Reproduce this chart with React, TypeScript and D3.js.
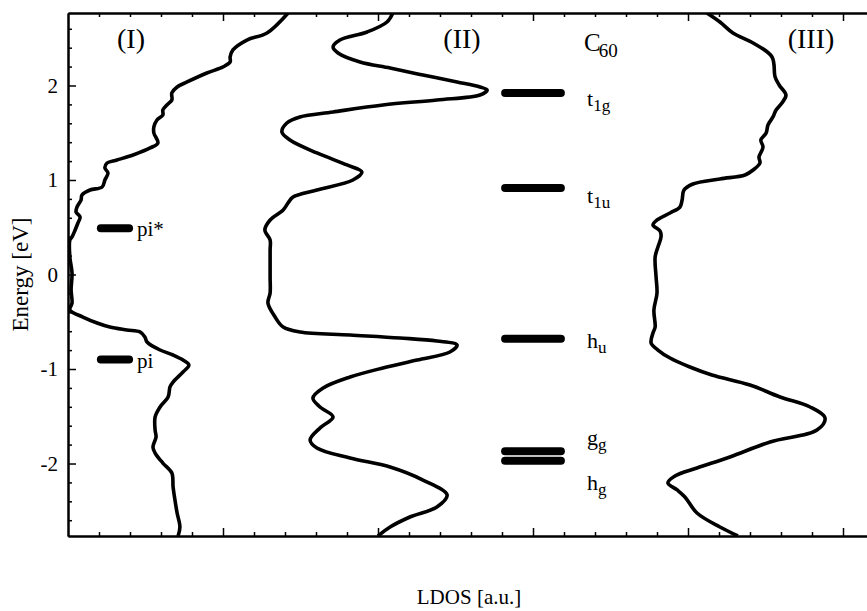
import React, { Component } from "react";
import * as d3 from "d3";

// LDOS curves (energy in eV, LDOS in arbitrary units)
const curveIEnergy = [2.767, 2.556, 2.481, 2.376, 2.302, 2.249, 2.196, 2.132, 2.037, 1.984, 1.921, 1.847, 1.794, 1.741, 1.688, 1.635, 1.561, 1.497, 1.392, 1.339, 1.265, 1.212, 1.18, 1.127, 1.074, 1.0, 0.926, 0.894, 0.841, 0.788, 0.714, 0.661, 0.608, 0.545, 0.471, 0.397, 0.365, 0.185, 0.016, -0.164, -0.302, -0.376, -0.45, -0.513, -0.556, -0.587, -0.608, -0.661, -0.714, -0.799, -0.852, -0.905, -0.958, -1.032, -1.138, -1.19, -1.296, -1.402, -1.508, -1.646, -1.72, -1.825, -1.889, -1.995, -2.101, -2.249, -2.386, -2.524, -2.672, -2.767];
const curveILdos = [7.1, 6.42, 5.77, 5.32, 5.23, 5.23, 5.0, 4.48, 3.84, 3.52, 3.35, 3.35, 3.19, 3.06, 3.06, 2.87, 2.77, 2.77, 2.9, 2.65, 2.1, 1.58, 1.26, 1.19, 1.29, 1.19, 1.1, 0.71, 0.45, 0.42, 0.29, 0.26, 0.39, 0.32, 0.23, 0.13, 0.06, 0.06, 0.13, 0.1, 0.13, 0.06, 0.48, 0.94, 1.35, 1.9, 2.32, 2.48, 2.55, 2.97, 3.39, 3.71, 3.9, 3.71, 3.39, 3.29, 3.23, 2.97, 2.81, 2.81, 2.84, 2.74, 2.81, 3.06, 3.35, 3.39, 3.45, 3.52, 3.61, 3.55];

const curveIIEnergy = [2.767, 2.672, 2.566, 2.481, 2.407, 2.344, 2.249, 2.185, 2.111, 2.037, 1.984, 1.952, 1.899, 1.847, 1.794, 1.72, 1.667, 1.603, 1.508, 1.423, 1.286, 1.159, 1.085, 1.0, 0.894, 0.82, 0.757, 0.683, 0.577, 0.471, 0.365, 0.259, -0.026, -0.196, -0.302, -0.45, -0.556, -0.608, -0.64, -0.672, -0.704, -0.746, -0.82, -0.905, -0.989, -1.085, -1.201, -1.307, -1.402, -1.508, -1.624, -1.751, -1.836, -1.942, -2.037, -2.175, -2.333, -2.46, -2.566, -2.672, -2.767];
const curveIILdos = [10.48, 10.29, 9.65, 8.77, 8.55, 8.71, 9.42, 10.39, 11.45, 12.55, 13.29, 13.52, 13.29, 11.9, 10.16, 8.55, 7.48, 7.06, 6.9, 7.16, 8.03, 9.0, 9.48, 9.19, 8.03, 7.26, 7.1, 6.94, 6.52, 6.35, 6.52, 6.52, 6.52, 6.52, 6.45, 6.68, 6.94, 7.48, 9.1, 10.71, 11.9, 12.55, 12.32, 11.26, 10.16, 9.1, 8.23, 7.9, 8.13, 8.55, 8.13, 7.81, 8.03, 9.1, 10.39, 11.45, 12.23, 11.9, 11.03, 10.39, 10.0];

const curveIIIEnergy = [2.767, 2.672, 2.556, 2.45, 2.302, 2.09, 2.005, 1.899, 1.815, 1.741, 1.667, 1.582, 1.497, 1.423, 1.349, 1.243, 1.18, 1.106, 1.053, 1.011, 0.958, 0.894, 0.788, 0.714, 0.651, 0.577, 0.524, 0.46, 0.397, 0.291, 0.185, -0.026, -0.196, -0.376, -0.556, -0.619, -0.725, -0.799, -0.884, -0.979, -1.063, -1.169, -1.296, -1.402, -1.519, -1.646, -1.772, -1.931, -2.048, -2.132, -2.206, -2.28, -2.354, -2.524, -2.672, -2.767];
const curveIIILdos = [20.61, 21.03, 21.45, 22.1, 22.71, 22.81, 22.94, 23.16, 23.03, 22.84, 22.74, 22.58, 22.52, 22.35, 22.42, 22.29, 22.32, 22.1, 21.84, 21.03, 20.16, 19.87, 19.81, 19.74, 19.42, 19.0, 18.87, 19.1, 19.13, 19.03, 18.94, 18.97, 19.0, 18.9, 18.94, 18.87, 18.81, 19.03, 19.42, 20.06, 20.77, 22.0, 22.97, 23.94, 24.42, 24.16, 22.65, 21.35, 20.29, 19.58, 19.35, 19.65, 19.9, 20.29, 21.03, 21.61];

// C60 molecular levels
const c60LevelMain = ["t", "t", "h", "g", "h"];
const c60LevelSub = ["1g", "1u", "u", "g", "g"];
const c60LevelEnergy = [1.92, 0.915, -0.68, -1.87, -1.97];

// pi levels of panel (I)
const piLevelNames = ["pi*", "pi"];
const piLevelEnergy = [0.49, -0.9];

const panelLabels = ["(I)", "(II)", "(III)"];
const yTickValues = [-2, -1, 0, 1, 2];
const yTickLabels = ["-2", "-1", "0", "1", "2"];

const FONT = "'Liberation Serif', 'Times New Roman', serif";

class App extends Component {
  svgRef = React.createRef<SVGSVGElement>();

  componentDidMount() {
    this.renderChart();
  }

  componentDidUpdate() {
    this.renderChart();
  }

  renderChart = () => {
    const width = 867,
      height = 611;
    const left = 68,
      top = 13,
      right = 867,
      bottom = 536;

    const svg = d3.select(this.svgRef.current);
    svg.selectAll("*").remove();

    const x_Scale = d3.scaleLinear().domain([0, (right - left) / 31]).range([left, right]);
    const y_Scale = d3.scaleLinear().domain([-2.767, 2.767]).range([bottom, top]);

    svg
      .append("defs")
      .append("clipPath")
      .attr("id", "plot-clip")
      .append("rect")
      .attr("x", left)
      .attr("y", top)
      .attr("width", right - left)
      .attr("height", bottom - top);

    // LDOS curves
    const lineGen = d3
      .line<[number, number]>()
      .x((d) => x_Scale(d[0]))
      .y((d) => y_Scale(d[1]))
      .curve(d3.curveCatmullRom.alpha(0.5));

    const curves = [
      [curveILdos, curveIEnergy],
      [curveIILdos, curveIIEnergy],
      [curveIIILdos, curveIIIEnergy],
    ].map(([ldos, energy]) => ldos.map((v, i) => [v, energy[i]] as [number, number]));

    svg
      .append("g")
      .attr("clip-path", "url(#plot-clip)")
      .selectAll(".ldos-line")
      .data(curves)
      .join("path")
      .attr("class", "ldos-line")
      .attr("d", (d) => lineGen(d))
      .attr("fill", "none")
      .attr("stroke", "#000")
      .attr("stroke-width", 3.6)
      .attr("stroke-linejoin", "round");

    // C60 levels
    svg
      .selectAll(".c60-level")
      .data(c60LevelEnergy)
      .join("line")
      .attr("class", "c60-level")
      .attr("x1", x_Scale(14.1))
      .attr("x2", x_Scale(15.9))
      .attr("y1", (d) => y_Scale(d))
      .attr("y2", (d) => y_Scale(d))
      .attr("stroke", "#000")
      .attr("stroke-width", 8)
      .attr("stroke-linecap", "round");

    const labelDy = [13, 15, 9, -6, 29];
    const c60Labels = svg
      .selectAll(".c60-label")
      .data(c60LevelEnergy)
      .join("text")
      .attr("class", "c60-label")
      .attr("x", 587)
      .attr("y", (d, i) => y_Scale(d) + labelDy[i])
      .attr("font-family", FONT)
      .attr("font-size", 22);
    c60Labels.append("tspan").text((d, i) => c60LevelMain[i]);
    c60Labels
      .append("tspan")
      .attr("dy", 5)
      .attr("font-size", 17)
      .text((d, i) => c60LevelSub[i]);

    // pi levels
    svg
      .selectAll(".pi-level")
      .data(piLevelEnergy)
      .join("line")
      .attr("class", "pi-level")
      .attr("x1", x_Scale(1.06))
      .attr("x2", x_Scale(1.97))
      .attr("y1", (d) => y_Scale(d))
      .attr("y2", (d) => y_Scale(d))
      .attr("stroke", "#000")
      .attr("stroke-width", 8)
      .attr("stroke-linecap", "round");

    svg
      .selectAll(".pi-label")
      .data(piLevelEnergy)
      .join("text")
      .attr("class", "pi-label")
      .attr("x", 137)
      .attr("y", (d) => y_Scale(d) + 8)
      .attr("font-family", FONT)
      .attr("font-size", 21)
      .text((d, i) => piLevelNames[i]);

    // panel labels
    const panelX = [131, 462, 811];
    svg
      .selectAll(".panel-label")
      .data(panelLabels)
      .join("text")
      .attr("class", "panel-label")
      .attr("x", (d, i) => panelX[i])
      .attr("y", 48)
      .attr("text-anchor", "middle")
      .attr("font-family", FONT)
      .attr("font-size", 28)
      .text((d) => d);

    const c60 = svg
      .append("text")
      .attr("x", 584)
      .attr("y", 51)
      .attr("font-family", FONT)
      .attr("font-size", 25);
    c60.append("tspan").text("C");
    c60.append("tspan").attr("dy", 6).attr("dx", -2).attr("font-size", 19).text("60");

    // axes
    const minorY = d3.range(-2.6, 2.8, 0.2).filter((v) => Math.abs(v - Math.round(v)) > 0.05);
    const minorX = d3.range(1, 26, 1).filter((v) => v % 5 !== 0);
    const majorX = [5, 10, 15, 20, 25];

    const styleAxis = (g) => {
      g.select(".domain").attr("stroke-width", 2);
      g.selectAll(".tick line").attr("stroke-width", 1.5);
    };

    svg
      .append("g")
      .attr("transform", `translate(${left},0)`)
      .call(d3.axisLeft(y_Scale).tickValues(minorY).tickSize(-4).tickSizeOuter(0).tickFormat(() => ""))
      .call(styleAxis);
    svg
      .append("g")
      .attr("transform", `translate(${left},0)`)
      .call(
        d3
          .axisLeft(y_Scale)
          .tickValues(yTickValues)
          .tickSize(-8)
          .tickSizeOuter(0)
          .tickPadding(10)
          .tickFormat((d, i) => yTickLabels[i])
      )
      .call(styleAxis)
      .call((g) => g.selectAll("text").attr("font-family", FONT).attr("font-size", 21).attr("fill", "#000"));

    [
      [d3.axisBottom, bottom],
      [d3.axisTop, top],
    ].forEach(([axisFn, pos]: any) => {
      svg
        .append("g")
        .attr("transform", `translate(0,${pos})`)
        .call(axisFn(x_Scale).tickValues(minorX).tickSize(-4).tickSizeOuter(0).tickFormat(() => ""))
        .call(styleAxis);
      svg
        .append("g")
        .attr("transform", `translate(0,${pos})`)
        .call(axisFn(x_Scale).tickValues(majorX).tickSize(-8).tickSizeOuter(0).tickFormat(() => ""))
        .call(styleAxis);
    });

    // axis titles
    svg
      .append("text")
      .attr("transform", `translate(28,${y_Scale(0)}) rotate(-90)`)
      .attr("text-anchor", "middle")
      .attr("font-family", FONT)
      .attr("font-size", 23)
      .text("Energy [eV]");

    svg
      .append("text")
      .attr("x", 469)
      .attr("y", 604)
      .attr("text-anchor", "middle")
      .attr("font-family", FONT)
      .attr("font-size", 21)
      .text("LDOS [a.u.]");

    svg.attr("width", width).attr("height", height);
  };

  render() {
    return (
      <div className="chart">
        <svg
          ref={this.svgRef}
          width="867"
          height="611"
          style={{ position: "absolute", left: 0, top: 0, background: "#fff" }}
        ></svg>
      </div>
    );
  }
}

export default App;
